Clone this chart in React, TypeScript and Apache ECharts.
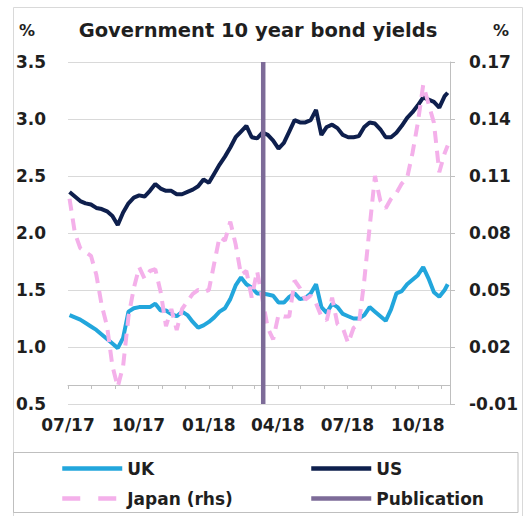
import React, { useEffect, useRef } from 'react';
import * as echarts from 'echarts';

const dates = [
  '2017-07-03', '2017-07-10', '2017-07-17', '2017-07-24', '2017-07-31',
  '2017-08-07', '2017-08-14', '2017-08-21', '2017-08-28',
  '2017-09-04', '2017-09-11', '2017-09-18', '2017-09-25',
  '2017-10-02', '2017-10-09', '2017-10-16', '2017-10-23', '2017-10-30',
  '2017-11-06', '2017-11-13', '2017-11-20', '2017-11-27',
  '2017-12-04', '2017-12-11', '2017-12-18', '2017-12-25',
  '2018-01-01', '2018-01-08', '2018-01-15', '2018-01-22', '2018-01-29',
  '2018-02-05', '2018-02-12', '2018-02-19', '2018-02-26',
  '2018-03-05', '2018-03-12', '2018-03-19', '2018-03-26',
  '2018-04-02', '2018-04-09', '2018-04-16', '2018-04-23', '2018-04-30',
  '2018-05-07', '2018-05-14', '2018-05-21', '2018-05-28',
  '2018-06-04', '2018-06-11', '2018-06-18', '2018-06-25',
  '2018-07-02', '2018-07-09', '2018-07-16', '2018-07-23', '2018-07-30',
  '2018-08-06', '2018-08-13', '2018-08-20', '2018-08-27',
  '2018-09-03', '2018-09-10', '2018-09-17', '2018-09-24',
  '2018-10-01', '2018-10-08', '2018-10-15', '2018-10-22', '2018-10-29',
  '2018-11-05', '2018-11-09',
];

const usYields = [
  2.36, 2.32, 2.28, 2.26, 2.25,
  2.22, 2.21, 2.19, 2.15,
  2.07, 2.18, 2.26, 2.31,
  2.33, 2.32, 2.37, 2.43, 2.39,
  2.37, 2.37, 2.34, 2.34,
  2.36, 2.38, 2.41, 2.47,
  2.44, 2.52, 2.60, 2.67, 2.75,
  2.84, 2.89, 2.94, 2.84,
  2.83, 2.88, 2.86, 2.81,
  2.74, 2.79, 2.89, 2.99, 2.97,
  2.97, 2.99, 3.08, 2.86,
  2.93, 2.95, 2.92, 2.86,
  2.84, 2.84, 2.85, 2.93, 2.97,
  2.96, 2.91, 2.84, 2.84,
  2.88, 2.94, 3.01, 3.06,
  3.12, 3.19, 3.17, 3.15, 3.10,
  3.20, 3.23,
];

const ukYields = [
  1.28, 1.26, 1.24, 1.21, 1.18,
  1.15, 1.11, 1.07, 1.03,
  0.99, 1.08, 1.31, 1.34,
  1.35, 1.35, 1.35, 1.38, 1.32,
  1.32, 1.29, 1.27, 1.31,
  1.28, 1.22, 1.17, 1.19,
  1.22, 1.26, 1.31, 1.34, 1.42,
  1.54, 1.61, 1.55, 1.52,
  1.47, 1.47, 1.46, 1.45,
  1.39, 1.39, 1.44, 1.47, 1.42,
  1.43, 1.47, 1.55, 1.35,
  1.30, 1.38, 1.35, 1.29,
  1.27, 1.25, 1.25, 1.28, 1.35,
  1.31, 1.27, 1.23, 1.33,
  1.47, 1.49, 1.55, 1.59,
  1.63, 1.70, 1.60, 1.48, 1.44,
  1.50, 1.55,
];

const japanYields = [
  0.098, 0.080, 0.072, 0.070, 0.068,
  0.058, 0.042, 0.031, 0.010,
  -0.001, 0.010, 0.036, 0.051,
  0.062, 0.056, 0.060, 0.061, 0.049,
  0.031, 0.040, 0.029, 0.040,
  0.044, 0.048, 0.050, 0.049,
  0.050, 0.064, 0.078, 0.076, 0.086,
  0.074, 0.058, 0.060, 0.046,
  0.060, 0.045, 0.030, 0.024,
  0.037, 0.036, 0.036, 0.055, 0.051,
  0.045, 0.047, 0.043, 0.036,
  0.034, 0.046, 0.032, 0.030,
  0.022, 0.030, 0.032, 0.055, 0.083,
  0.110, 0.097, 0.093, 0.098,
  0.101, 0.106, 0.109, 0.122,
  0.138, 0.158, 0.148, 0.138, 0.112,
  0.122, 0.126,
];

const publicationDate = '2018-03-13';
const publicationRange = [0.5, 3.5];

const xStart = '2017-07-01';
const xEnd = '2018-11-12';
const monthTickDates = [
  '2017-07-01', '2017-08-01', '2017-09-01', '2017-10-01', '2017-11-01', '2017-12-01',
  '2018-01-01', '2018-02-01', '2018-03-01', '2018-04-01', '2018-05-01', '2018-06-01',
  '2018-07-01', '2018-08-01', '2018-09-01', '2018-10-01', '2018-11-01',
];
const quarterLabelDates = ['2017-07-01', '2017-10-01', '2018-01-01', '2018-04-01', '2018-07-01', '2018-10-01'];
const rightTicks = [-0.01, 0.02, 0.05, 0.08, 0.11, 0.14, 0.17];

const ts = (s: string) => {
  const [y, m, d] = s.split('-').map(Number);
  return new Date(y, m - 1, d).getTime();
};

const FONT = 'DejaVu Sans';
const TEXT_COLOR = '#1f1f1f';

export default function App() {
  const ref = useRef<HTMLDivElement>(null);

  useEffect(() => {
    if (!ref.current) return;
    const chart = echarts.init(ref.current, undefined, { renderer: 'svg' });
    const labelStyle = { fontFamily: FONT, fontWeight: 'bold' as const, fontSize: 17, color: TEXT_COLOR };

    const legendBase = {
      padding: 0,
      itemWidth: 60,
      itemHeight: 14,
      selectedMode: false,
      textStyle: labelStyle,
      itemStyle: { opacity: 0 },
      lineStyle: { width: 4.5 },
    };

    const option: any = {
      animation: false,
      backgroundColor: '#ffffff',
      grid: { left: 68, right: 76, top: 62, bottom: 112, containLabel: false },
      xAxis: {
        type: 'value',
        min: ts(xStart),
        max: ts(xEnd),
        axisLine: { show: true, lineStyle: { color: '#bfbfbf', width: 1 } },
        axisTick: {
          show: true,
          length: 4,
          lineStyle: { color: '#bfbfbf' },
          customValues: monthTickDates.map(ts),
        },
        axisLabel: {
          ...labelStyle,
          margin: 12,
          customValues: quarterLabelDates.map(ts),
          formatter: (v: number) => {
            const d = new Date(v);
            return String(d.getMonth() + 1).padStart(2, '0') + '/' + String(d.getFullYear() % 100).padStart(2, '0');
          },
        },
        splitLine: { show: false },
      },
      yAxis: [
        {
          type: 'value',
          min: 0.5,
          max: 3.5,
          interval: 0.5,
          axisLine: { show: false },
          axisTick: { show: false },
          axisLabel: { ...labelStyle, margin: 22, formatter: (v: number) => v.toFixed(1) },
          splitLine: { show: true, lineStyle: { color: '#d9d9d9', width: 1 } },
        },
        {
          type: 'value',
          position: 'right',
          min: -0.01,
          max: 0.17,
          axisLine: { show: true, lineStyle: { color: '#bfbfbf', width: 1 } },
          axisTick: { show: true, length: 5, lineStyle: { color: '#bfbfbf' }, customValues: rightTicks },
          axisLabel: { ...labelStyle, margin: 19, customValues: rightTicks, formatter: (v: number) => v.toFixed(2) },
          splitLine: { show: false },
        },
      ],
      legend: [
        { ...legendBase, data: ['UK'], left: 60, top: 460 },
        { ...legendBase, data: ['US'], left: 309, top: 460 },
        { ...legendBase, data: ['Japan (rhs)'], left: 60, top: 490, lineStyle: { width: 4.5, type: [18, 18] } },
        { ...legendBase, data: ['Publication'], left: 309, top: 490 },
      ],
      series: [
        {
          name: 'UK',
          type: 'line',
          yAxisIndex: 0,
          symbol: 'none',
          z: 3,
          lineStyle: { color: '#22a6dc', width: 4 },
          itemStyle: { color: '#22a6dc' },
          data: dates.map((d, i) => [ts(d), ukYields[i]]),
        },
        {
          name: 'US',
          type: 'line',
          yAxisIndex: 0,
          symbol: 'none',
          z: 3,
          lineStyle: { color: '#0e1f4d', width: 4 },
          itemStyle: { color: '#0e1f4d' },
          data: dates.map((d, i) => [ts(d), usYields[i]]),
        },
        {
          name: 'Japan (rhs)',
          type: 'line',
          yAxisIndex: 1,
          symbol: 'none',
          z: 4,
          lineStyle: { color: '#f4b0ea', width: 4, type: [12, 8] },
          itemStyle: { color: '#f4b0ea' },
          data: dates.map((d, i) => [ts(d), japanYields[i]]),
        },
        {
          name: 'Publication',
          type: 'line',
          yAxisIndex: 0,
          symbol: 'none',
          z: 5,
          lineStyle: { color: '#7d6b98', width: 4.5 },
          itemStyle: { color: '#7d6b98' },
          data: publicationRange.map((v) => [ts(publicationDate), v]),
        },
      ],
      graphic: [
        {
          type: 'rect',
          silent: true,
          z: -1,
          shape: { x: 13.5, y: 7.5, width: 509, height: 512 },
          style: { fill: 'none', stroke: '#d9d9d9', lineWidth: 1 },
        },
        {
          type: 'rect',
          silent: true,
          shape: { x: 13.5, y: 452.5, width: 504.5, height: 60 },
          style: { fill: 'none', stroke: '#bfbfbf', lineWidth: 1 },
        },
        {
          type: 'text',
          x: 258,
          y: 30,
          style: {
            text: 'Government 10 year bond yields',
            fontFamily: FONT,
            fontWeight: 'bold',
            fontSize: 19.5,
            fill: TEXT_COLOR,
            align: 'center',
            verticalAlign: 'middle',
          },
        },
        {
          type: 'text',
          x: 27,
          y: 30,
          style: { text: '%', fontFamily: FONT, fontWeight: 'bold', fontSize: 16, fill: TEXT_COLOR, align: 'center', verticalAlign: 'middle' },
        },
        {
          type: 'text',
          x: 501,
          y: 30,
          style: { text: '%', fontFamily: FONT, fontWeight: 'bold', fontSize: 16, fill: TEXT_COLOR, align: 'center', verticalAlign: 'middle' },
        },
      ],
    };

    chart.setOption(option);
    return () => chart.dispose();
  }, []);

  return (
    <div
      ref={ref}
      style={{ position: 'fixed', left: 0, top: 0, width: 526, height: 516, background: '#ffffff' }}
    />
  );
}
